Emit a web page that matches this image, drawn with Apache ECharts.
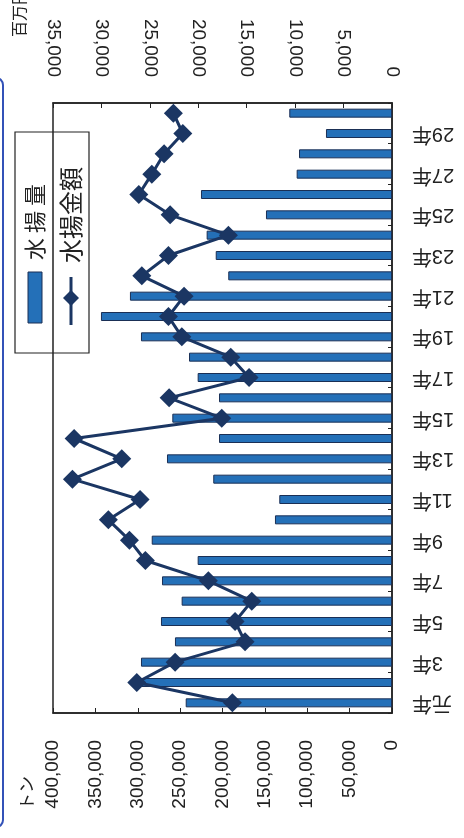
<!DOCTYPE html>
<html>
<head>
<meta charset="utf-8">
<script src="https://cdn.jsdelivr.net/npm/echarts@6/dist/echarts.min.js"></script>
<style>
html,body{margin:0;padding:0;background:#fff;}
#c{width:464px;height:838px;}
</style>
</head>
<body>
<div id="c"></div>
<script>
const categories = ['元年','2年','3年','4年','5年','6年','7年','8年','9年','10年','11年','12年','13年','14年','15年','16年','17年','18年','19年','20年','21年','22年','23年','24年','25年','26年','27年','28年','29年','30年'];
const landings = [243400,301000,296200,256100,272600,248200,271400,229300,283500,138100,133000,210900,265500,204100,259200,204100,229300,239500,296200,343400,309200,193200,208000,218700,148700,225400,112500,109700,77900,121200];
const values = [16480,26350,22390,15170,16200,14480,18960,25460,27110,29280,26010,32990,27900,32820,17580,23010,14760,16650,21700,23080,21470,25830,23080,16890,22910,26140,24800,23530,21600,22570];
const tonTicks = { min: 0, max: 400000, interval: 50000 };
const yenTicks = { min: 0, max: 35000, interval: 5000 };
const seriesNames = ['水 揚 量', '水揚金額'];
const unitLeft = 'トン';
const unitRight = '百万円';

const BAR = '#2470b8', DARK = '#1b3663';
const numFont = "'Liberation Sans', 'Noto Sans CJK JP', sans-serif";
const fmt = v => v.toLocaleString('en-US');

const chart = echarts.init(document.getElementById('c'));
chart.setOption({
  animation: false,
  backgroundColor: '#fff',
  grid: { left: 53, right: 72, top: 103, bottom: 125, show: true, borderColor: '#222', borderWidth: 1.5, backgroundColor: 'transparent' },
  xAxis: [
    { type: 'value', position: 'bottom', inverse: true, min: tonTicks.min, max: tonTicks.max, interval: tonTicks.interval,
      axisLine: { show: true, lineStyle: { color: '#222', width: 1.5 } },
      axisTick: { show: true, inside: true, length: 5, lineStyle: { color: '#222' } },
      splitLine: { show: false },
      axisLabel: { rotate: 90, margin: 27, fontSize: 19, color: '#222', fontFamily: numFont, formatter: fmt } },
    { type: 'value', position: 'top', inverse: true, min: yenTicks.min, max: yenTicks.max, interval: yenTicks.interval,
      axisLine: { show: true, lineStyle: { color: '#222', width: 1.5 } },
      axisTick: { show: true, inside: true, length: 5, lineStyle: { color: '#222' } },
      splitLine: { show: false },
      axisLabel: { rotate: 90, margin: 26, fontSize: 19, color: '#222', fontFamily: numFont, formatter: fmt } }
  ],
  yAxis: [
    { type: 'category', position: 'right', data: categories,
      axisLine: { show: true, lineStyle: { color: '#222', width: 1.5 } },
      axisTick: { show: true, inside: true, length: 4, lineStyle: { color: '#222' } },
      axisLabel: { rotate: 180, interval: 1, margin: 20, fontSize: 20, color: '#222', fontFamily: numFont } }
  ],
  series: [
    { name: seriesNames[0], type: 'bar', xAxisIndex: 0, yAxisIndex: 0, data: landings, barWidth: 9,
      itemStyle: { color: BAR, borderColor: '#1a2f55', borderWidth: 1 } },
    { name: seriesNames[1], type: 'line', xAxisIndex: 1, yAxisIndex: 0, data: values, z: 5,
      symbol: 'diamond', symbolSize: 19, showSymbol: true, showAllSymbol: true,
      lineStyle: { color: DARK, width: 3 }, itemStyle: { color: DARK } }
  ],
  graphic: [
    { type: 'rect', shape: { x: -300, y: 78, width: 303, height: 749, r: 7 }, style: { fill: 'none', stroke: '#3352b8', lineWidth: 2 } },
    { type: 'text', x: 19, y: 13, rotation: Math.PI / 2, style: { text: unitRight, font: "16px 'Noto Sans CJK JP'", fill: '#222', align: 'center', verticalAlign: 'middle' } },
    { type: 'text', x: 27, y: 793, rotation: Math.PI / 2, style: { text: unitLeft, font: "17px 'Noto Sans CJK JP'", fill: '#222', align: 'center', verticalAlign: 'middle' } },
    { type: 'rect', shape: { x: 15, y: 132, width: 74, height: 221 }, style: { fill: 'none', stroke: '#222', lineWidth: 1.2 }, z: 10 },
    { type: 'rect', shape: { x: 28, y: 272, width: 14, height: 51 }, style: { fill: BAR, stroke: '#1a2f55', lineWidth: 1 }, z: 10 },
    { type: 'text', x: 35, y: 222, rotation: Math.PI / 2, z: 10, style: { text: seriesNames[0], font: "22px 'Noto Sans CJK JP'", fill: '#222', align: 'center', verticalAlign: 'middle' } },
    { type: 'line', shape: { x1: 71, y1: 277, x2: 71, y2: 325 }, style: { stroke: DARK, lineWidth: 3 }, z: 10 },
    { type: 'polygon', shape: { points: [[71, 290], [79, 298], [71, 306], [63, 298]] }, style: { fill: DARK }, z: 10 },
    { type: 'text', x: 71, y: 215, rotation: Math.PI / 2, z: 10, style: { text: seriesNames[1], font: "24px 'Noto Sans CJK JP'", fill: '#222', align: 'center', verticalAlign: 'middle' } }
  ]
});
</script>
</body>
</html>
